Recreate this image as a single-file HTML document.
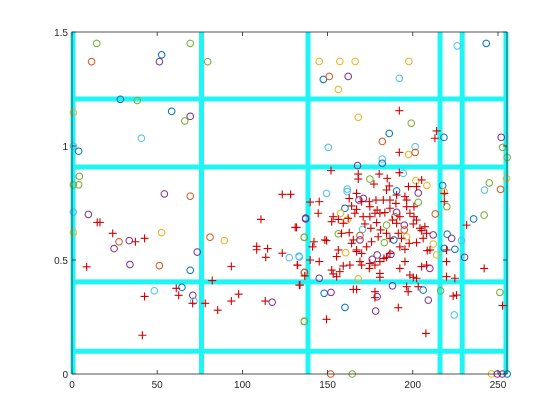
<!DOCTYPE html>
<html><head><meta charset="utf-8"><style>
html,body{margin:0;padding:0;background:#fff;width:560px;height:420px;overflow:hidden}
svg{display:block;font-family:"Liberation Sans",sans-serif}
</style></head><body>
<svg id="chart" width="560" height="420" viewBox="0 0 560 420"></svg>
<script>
const xTicks=[0,50,100,150,200,250];
const yTicks=[0,0.5,1,1.5];
const yTickLabels=["0","0.5","1","1.5"];
const vLines=[0.6,76,138.5,216,229,254.7];
const hLines=[1.206,0.908,0.404,0.1];
const circX=[14.5,11.5,52.6,51.3,69.4,79.6,28.4,38.3,0.8,58.5,69.4,66.2,40.7,3.9,0.8,4.3,3.9,0.8,54.2,69.4,9.6,0.8,0.8,52.6,81,89.4,27.6,33.6,24.7,34,51.3,73.5,69.4,48.3,64.5,70.9,71.5,117.5,136.3,127.5,133.4,136.3,137.1,136.3,
145.1,157.2,166.2,197.7,147.5,151,162.1,156.3,192.1,226.1,243.1,168,199.1,186.2,182.1,218.3,150.4,201.4,197.5,201.4,251.9,252.7,255.4,182.1,182.1,167.6,194.4,174.8,201.8,208.3,190.5,203.2,203.2,161.5,161.5,149.4,217.5,218.3,220,213.2,244.9,242.1,251.5,255,241.9,235.7,137.1,168.4,171,160.2,157.6,161.5,190.5,189.5,184.6,170.5,169,169,156.3,195,195,196.4,183.3,188.9,212,212,220.2,222.8,218.5,224.7,228.6,230.4,214,176.2,179.1,187.2,210,160.6,136.3,133.2,136.5,168,145.1,148,152,160.2,179.1,178.2,188.1,206.1,209.1,216.3,224.3,251.1,136.3,151.8,164.5,246.2,249.6,252.5,255.4];
const circY=[1.45,1.37,1.40,1.37,1.45,1.37,1.205,1.20,1.146,1.152,1.13,1.11,1.034,0.977,1.0,0.867,0.83,0.83,0.79,0.78,0.70,0.71,0.62,0.62,0.60,0.585,0.58,0.585,0.55,0.48,0.475,0.535,0.455,0.365,0.38,0.345,0.32,0.315,0.23,0.51,0.513,0.60,0.68,0.445,
1.371,1.371,1.371,1.371,1.292,1.305,1.305,1.248,1.297,1.439,1.45,1.126,1.10,1.055,1.02,1.038,0.994,0.997,0.963,0.972,1.038,0.994,0.95,0.943,0.924,0.914,0.88,0.855,0.848,0.827,0.803,0.794,0.753,0.811,0.80,0.792,0.827,0.80,0.734,0.702,0.838,0.807,0.81,0.858,0.697,0.68,0.684,0.763,0.77,0.727,0.705,0.675,0.709,0.69,0.653,0.634,0.607,0.588,0.615,0.653,0.632,0.602,0.576,0.588,0.61,0.57,0.613,0.595,0.551,0.547,0.585,0.512,0.522,0.503,0.522,0.525,0.463,0.532,0.599,0.517,0.446,0.417,0.42,0.354,0.358,0.292,0.339,0.276,0.387,0.368,0.324,0.365,0.259,0.358,0.232,0,0,0,0,0,0];
const circC=[4,1,0,3,4,4,0,4,2,0,3,4,5,0,5,4,4,4,3,1,3,5,2,2,1,2,1,3,3,3,1,3,0,5,0,3,5,3,4,5,5,4,3,1,
2,2,2,2,0,1,3,2,5,5,0,2,4,0,1,0,5,5,2,1,3,4,4,5,0,3,5,4,2,2,0,3,4,5,5,5,0,2,4,1,4,5,1,2,4,0,3,3,3,0,2,2,3,1,4,5,1,3,4,3,1,2,4,0,3,2,0,3,0,0,5,3,2,3,3,3,3,2,4,5,1,2,3,0,3,0,3,3,3,0,3,4,5,4,4,1,4,2,3,3,0];
const plusX=[123.4,139.8,16.4,14.8,110.9,23.9,37.2,42.6,131,108.4,108.4,114.8,113.7,8.6,93.5,123.4,132.4,136.6,82.3,61.2,62.6,42.6,70.8,78.2,85.5,93.5,97.8,113.4,41.3,133.4,139.8,
192.1,192.1,214,213,152,192.1,168,168,180.3,185,205.2,197.5,202.2,177.2,186.2,184.6,190.5,186.6,182.7,178.4,174.5,167,162.7,164.1,167,170,174.8,179.1,180.7,183.6,186.6,190.1,195.4,196.4,198.3,200.7,202.2,200.3,177.8,174.8,170.9,166,162.1,159.2,156.3,153.3,152.4,145.1,144.5,148.4,149.4,142,141.2,158.2,162.7,165.1,164.1,167,167,170,172.9,175.8,179.7,181.1,184.6,186.6,191.5,193.4,192.4,195.4,197.9,202.2,206.1,205.2,204.2,207.1,208.1,210.1,186.6,184.6,183.1,180.7,177.8,174.8,174.5,170,169,163.1,159.2,155.3,156.3,152.4,153.3,157.2,155.3,145.1,132.2,133.8,165.1,167,180.7,180.7,192.4,195.4,198.3,200.3,202.2,205.2,208.1,208.5,219.8,219.8,224.7,223.7,225.7,196.4,197.3,203.2,207.7,191.5,177.8,177.8,149.4,241.9,231.6,252.7,218.5,218.5,219.8,196.4,200.7,128.3,131.8,188.1,190.5,192.4,175.4,171.9,178.8];
const plusY=[0.788,0.754,0.665,0.665,0.678,0.617,0.58,0.595,0.643,0.545,0.56,0.55,0.512,0.47,0.472,0.53,0.477,0.43,0.41,0.376,0.345,0.34,0.31,0.31,0.28,0.32,0.35,0.32,0.17,0.39,0.50,
1.155,0.972,1.066,1.034,0.892,0.883,0.877,0.855,0.877,0.858,0.851,0.822,0.822,0.833,0.825,0.807,0.785,0.763,0.763,0.763,0.756,0.792,0.77,0.737,0.722,0.756,0.734,0.719,0.705,0.708,0.727,0.748,0.778,0.734,0.705,0.734,0.675,0.658,0.705,0.69,0.69,0.705,0.683,0.661,0.678,0.69,0.668,0.756,0.705,0.588,0.585,0.58,0.558,0.617,0.62,0.588,0.573,0.544,0.537,0.529,0.558,0.58,0.602,0.632,0.617,0.595,0.617,0.595,0.558,0.547,0.573,0.576,0.595,0.629,0.639,0.646,0.617,0.544,0.529,0.512,0.507,0.493,0.478,0.485,0.463,0.478,0.493,0.478,0.474,0.515,0.544,0.456,0.439,0.449,0.427,0.493,0.478,0.39,0.371,0.371,0.424,0.441,0.463,0.493,0.434,0.424,0.42,0.471,0.478,0.541,0.493,0.427,0.42,0.342,0.346,0.383,0.361,0.383,0.178,0.291,0.361,0.335,0.24,0.463,0.653,0.3,0.792,0.756,0.544,0.763,0.69,0.788,0.643,0.675,0.661,0.69,0.639,0.658,0.664];
const colors=["#0072BD","#D95319","#EDB120","#7E2F8E","#77AC30","#4DBEEE"];

const L=72,R=507,T=32,B=374,XMAX=255.3,YMAX=1.5;
const sx=v=>L+v/XMAX*(R-L);
const sy=v=>B-v/YMAX*(B-T);
const NS="http://www.w3.org/2000/svg";
const svg=document.getElementById('chart');
function mk(tag,attrs,parent){const e=document.createElementNS(NS,tag);for(const k in attrs)e.setAttribute(k,attrs[k]);(parent||svg).appendChild(e);return e;}

const bg=mk('rect',{x:L,y:T,width:R-L,height:B-T,fill:'#fff'});



const gl=mk('g',{});


vLines.forEach(v=>{const l=mk('line',{x1:sx(v),x2:sx(v),y1:T,y2:B,stroke:'#1ff5f5','stroke-width':5},gl);

});
hLines.forEach(v=>{const l=mk('line',{x1:L,x2:R,y1:sy(v),y2:sy(v),stroke:'#1ff5f5','stroke-width':5},gl);

});

const gc=mk('g',{fill:'none','stroke-width':1});


circX.forEach((x,i)=>{const c=mk('circle',{cx:sx(x),cy:sy(circY[i]),r:3.3,stroke:colors[circC[i]]},gc);

});

const gp=mk('g',{stroke:'#d10000','stroke-width':1.1});


plusX.forEach((x,i)=>{const px=sx(x),py=sy(plusY[i]);
const p=mk('path',{d:`M${px-4},${py}H${px+4}M${px},${py-4}V${py+4}`},gp);

});

const ax=mk('g',{stroke:'#262626','stroke-width':0.8,fill:'none'});


mk('rect',{x:L,y:T,width:R-L,height:B-T},ax);
const xa=mk('g',{'font-size':10,fill:'#262626','text-anchor':'middle'});


xTicks.forEach(t=>{const x=sx(t);
mk('line',{x1:x,x2:x,y1:B,y2:B-4,stroke:'#262626'},ax);
mk('line',{x1:x,x2:x,y1:T,y2:T+4,stroke:'#262626'},ax);
const tx=mk('text',{x:x,y:B+14},xa);tx.textContent=t;

});
const ya=mk('g',{'font-size':10,fill:'#262626','text-anchor':'end'});


yTicks.forEach((t,i)=>{const y=sy(t);
mk('line',{x1:L,x2:L+4,y1:y,y2:y,stroke:'#262626'},ax);
mk('line',{x1:R,x2:R-4,y1:y,y2:y,stroke:'#262626'},ax);
const tx=mk('text',{x:L-4,y:y+4},ya);tx.textContent=yTickLabels[i];

});
</script>
</body></html>
